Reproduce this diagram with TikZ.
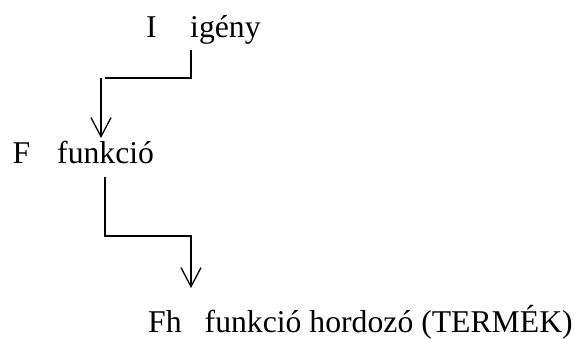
\documentclass[tikz,border=0pt]{standalone}
\usepackage{fontspec}
\setmainfont{Liberation Serif}
\usetikzlibrary{arrows.meta}
\begin{document}
\begin{tikzpicture}[x=1pt,y=-1pt,
  lbl/.style={anchor=base west,inner sep=0pt,font=\fontsize{31.7}{36}\selectfont},
  conn/.style={line width=1.3pt},
  arr/.style={conn,-{Straight Barb[length=19pt,width=20pt]}}]
\useasboundingbox (0,0) rectangle (575,338);
\node[lbl] (I) at (146,37) {I};
\node[lbl] (igeny) at (190,37) {igény};
\node[lbl] (F) at (12.5,163) {F};
\node[lbl] (funkcio) at (57,163) {funkció};
\node[lbl] (Fh) at (148,332) {Fh};
\node[lbl] (hordozo) at (204.5,332) {funkció hordozó (TERMÉK)};
% connector igény -> funkció
\coordinate (t1) at (191,50);
\coordinate (t2) at (105,78);
\coordinate (t3) at (101,78);
\coordinate (t4) at (101,138);
\draw[conn] (t1) |- (t2);
\draw[arr] (t3) -- (t4);
% connector funkció -> hordozó
\coordinate (b1) at (105,177);
\coordinate (bm) at (105,236);
\coordinate (b2) at (191,288);
\draw[arr] (b1) -- (bm) -| (b2);
\end{tikzpicture}
\end{document}
